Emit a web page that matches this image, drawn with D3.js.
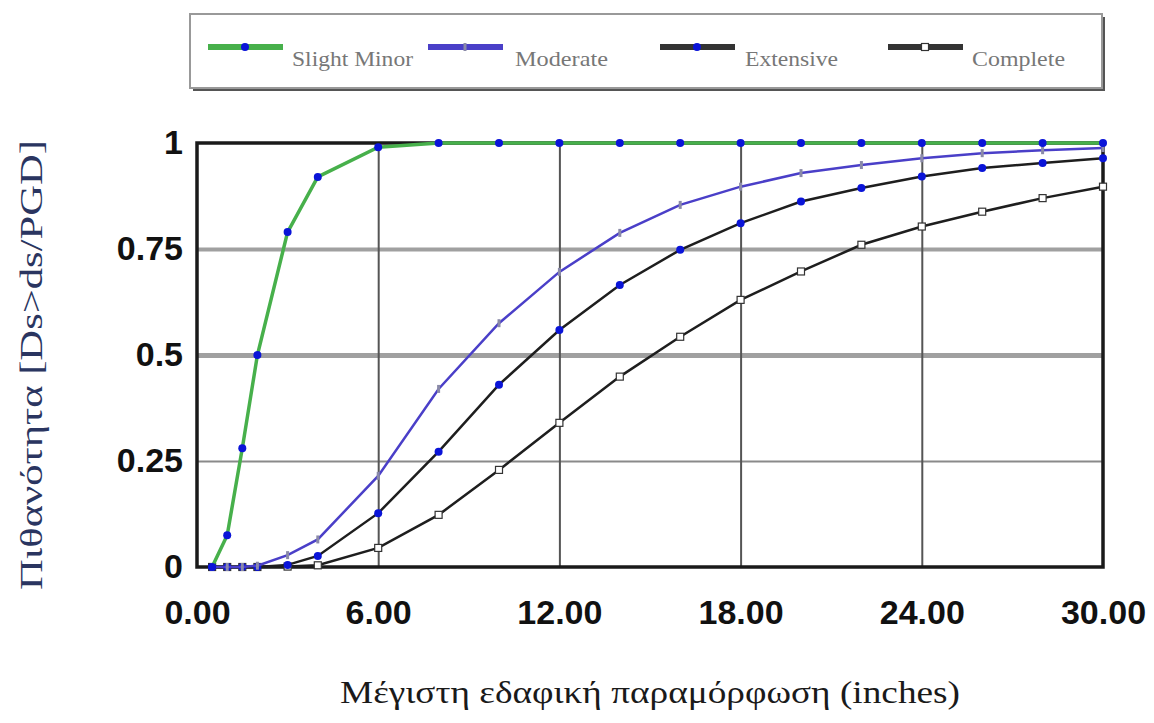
<!doctype html>
<html>
  <head>
    <meta charset="utf-8">
    <script src="https://cdn.jsdelivr.net/npm/d3@7"></script>
    <style>
      body {
          margin: 0;
          background: #fff;
      }
      .tick-label text {
          font-family: "Liberation Sans", Arial, sans-serif;
          font-weight: bold;
          font-size: 34px;
          fill: #111;
      }
      .legend-text {
          font-family: "Liberation Serif", "Times New Roman", serif;
          font-size: 21px;
          fill: #777;
      }
    </style>
  </head>
  <body>
    <script type="text/javascript">
        // data
        var xs = [0.5, 1, 1.5, 2, 3, 4, 6, 8, 10, 12, 14, 16, 18, 20, 22, 24, 26, 28, 30];
        var slight = [0, 0.075, 0.28, 0.5, 0.79, 0.92, 0.99, 1, 1, 1, 1, 1, 1, 1, 1, 1, 1, 1, 1];
        var moderate = [0, 0, 0, 0.003, 0.028, 0.065, 0.215, 0.42, 0.575, 0.696, 0.788, 0.854, 0.897, 0.929, 0.948, 0.964, 0.976, 0.983, 0.988];
        var extensive = [0, 0, 0, 0, 0.005, 0.026, 0.127, 0.272, 0.43, 0.559, 0.665, 0.748, 0.811, 0.862, 0.894, 0.921, 0.941, 0.953, 0.964];
        var complete = [0, 0, 0, 0, 0.001, 0.004, 0.045, 0.123, 0.229, 0.34, 0.449, 0.543, 0.63, 0.697, 0.76, 0.803, 0.838, 0.87, 0.897];
        var xTicks = [0, 6, 12, 18, 24, 30];
        var yTicks = [0, 0.25, 0.5, 0.75, 1];
        var names = ["Slight Minor", "Moderate", "Extensive", "Complete"];

        var W = 1154, H = 723;
        var margin = {top: 143, left: 197, right: 51, bottom: 156};
        var width = W - margin.left - margin.right, height = H - margin.top - margin.bottom;
        var serif = "'Liberation Serif', 'Times New Roman', 'DejaVu Serif', serif";

        var svg = d3.select("body").append("svg").attr("width", W).attr("height", H);
        var g = svg.append("g").attr("transform", `translate(${margin.left},${margin.top})`);

        var x = d3.scaleLinear().domain([0, 30]).range([0, width]);
        var y = d3.scaleLinear().domain([0, 1]).range([height, 0]);

        // grid
        var gridW = {0.25: 2, 0.5: 5, 0.75: 4};
        g.append("g")
            .call(d3.axisLeft(y).tickValues([0.25, 0.5, 0.75]).tickSize(-width).tickFormat(""))
            .call(a => a.select(".domain").remove())
            .call(a => a.selectAll(".tick line")
                .attr("stroke", d => d == 0.25 ? "#8a8a8a" : "#a0a0a0")
                .attr("stroke-width", d => gridW[d]));

        g.append("g")
            .attr("transform", `translate(0,${height})`)
            .call(d3.axisBottom(x).tickValues([6, 12, 18, 24]).tickSize(-height).tickFormat(""))
            .call(a => a.select(".domain").remove())
            .call(a => a.selectAll(".tick line").attr("stroke", "#555").attr("stroke-width", 2));

        // frame
        g.append("rect")
            .attr("x", 0).attr("y", 0)
            .attr("width", width).attr("height", height)
            .attr("fill", "none").attr("stroke", "#1a1a1a").attr("stroke-width", 3.5);

        // tick labels
        g.append("g")
            .attr("class", "tick-label")
            .attr("transform", `translate(0,${height})`)
            .call(d3.axisBottom(x).tickValues(xTicks).tickSize(0).tickPadding(33).tickFormat(d3.format(".2f")))
            .call(a => a.select(".domain").remove());

        g.append("g")
            .attr("class", "tick-label")
            .call(d3.axisLeft(y).tickValues(yTicks).tickSize(0).tickPadding(14).tickFormat(d3.format("~g")))
            .call(a => a.select(".domain").remove());

        // series
        var series = [
            {name: names[3], values: complete, color: "#1e1e1e", width: 2.5, marker: "square"},
            {name: names[2], values: extensive, color: "#1e1e1e", width: 2.5, marker: "dot"},
            {name: names[1], values: moderate, color: "#4a3fc8", width: 2.5, marker: "tick"},
            {name: names[0], values: slight, color: "#47b04b", width: 3.5, marker: "dot"}
        ];

        var line = d3.line().x(d => x(d[0])).y(d => y(d[1]));

        series.forEach(function(s) {
            var pts = xs.map((v, i) => [v, s.values[i]]);
            g.append("path")
                .datum(pts)
                .attr("fill", "none")
                .attr("stroke", s.color)
                .attr("stroke-width", s.width)
                .attr("d", line);
            drawMarkers(g, pts.map(p => [x(p[0]), y(p[1])]), s.marker);
        });

        function drawMarkers(sel, pts, type) {
            var m = sel.append("g");
            if (type == "dot") {
                m.selectAll("circle").data(pts).enter().append("circle")
                    .attr("cx", d => d[0]).attr("cy", d => d[1]).attr("r", 4)
                    .attr("fill", "#0a14d8");
            } else if (type == "square") {
                m.selectAll("rect").data(pts).enter().append("rect")
                    .attr("x", d => d[0] - 3.5).attr("y", d => d[1] - 3.5)
                    .attr("width", 7).attr("height", 7)
                    .attr("fill", "#fff").attr("stroke", "#333").attr("stroke-width", 1.2);
            } else {
                m.selectAll("rect").data(pts).enter().append("rect")
                    .attr("x", d => d[0] - 1.5).attr("y", d => d[1] - 4)
                    .attr("width", 3).attr("height", 8)
                    .attr("fill", "#8a8aa8");
            }
        }

        // legend
        var lg = svg.append("g");
        lg.append("rect")
            .attr("x", 193).attr("y", 17).attr("width", 912).attr("height", 74)
            .attr("fill", "#555");
        lg.append("rect")
            .attr("x", 190).attr("y", 14).attr("width", 912).attr("height", 74)
            .attr("fill", "#fff").attr("stroke", "#999").attr("stroke-width", 2);

        var legendItems = [
            {name: names[0], color: "#47b04b", marker: "dot", x: 208, tx: 292, tl: 121},
            {name: names[1], color: "#4a3fc8", marker: "tick", x: 428, tx: 515, tl: 93},
            {name: names[2], color: "#333", marker: "dot", x: 660, tx: 745, tl: 93},
            {name: names[3], color: "#333", marker: "square", x: 888, tx: 972, tl: 93}
        ];
        legendItems.forEach(function(d) {
            lg.append("line")
                .attr("x1", d.x).attr("x2", d.x + 75)
                .attr("y1", 47).attr("y2", 47)
                .attr("stroke", d.color).attr("stroke-width", 6);
            drawMarkers(lg, [[d.x + 37, 47]], d.marker);
            lg.append("text")
                .attr("class", "legend-text")
                .attr("x", d.tx).attr("y", 66)
                .attr("textLength", d.tl).attr("lengthAdjust", "spacingAndGlyphs")
                .text(d.name);
        });

        // axis titles
        svg.append("text")
            .attr("x", 650).attr("y", 703)
            .attr("text-anchor", "middle")
            .attr("font-family", serif)
            .attr("font-size", 32)
            .attr("fill", "#1a1a1a")
            .attr("textLength", 620).attr("lengthAdjust", "spacingAndGlyphs")
            .text("Μέγιστη εδαφική παραμόρφωση (inches)");

        svg.append("text")
            .attr("transform", "translate(42,365) rotate(-90)")
            .attr("text-anchor", "middle")
            .attr("font-family", serif)
            .attr("font-size", 32)
            .attr("fill", "#2a3560")
            .attr("textLength", 450).attr("lengthAdjust", "spacingAndGlyphs")
            .text("Πιθανότητα [Ds>ds/PGD]");
    </script>
  </body>
</html>
